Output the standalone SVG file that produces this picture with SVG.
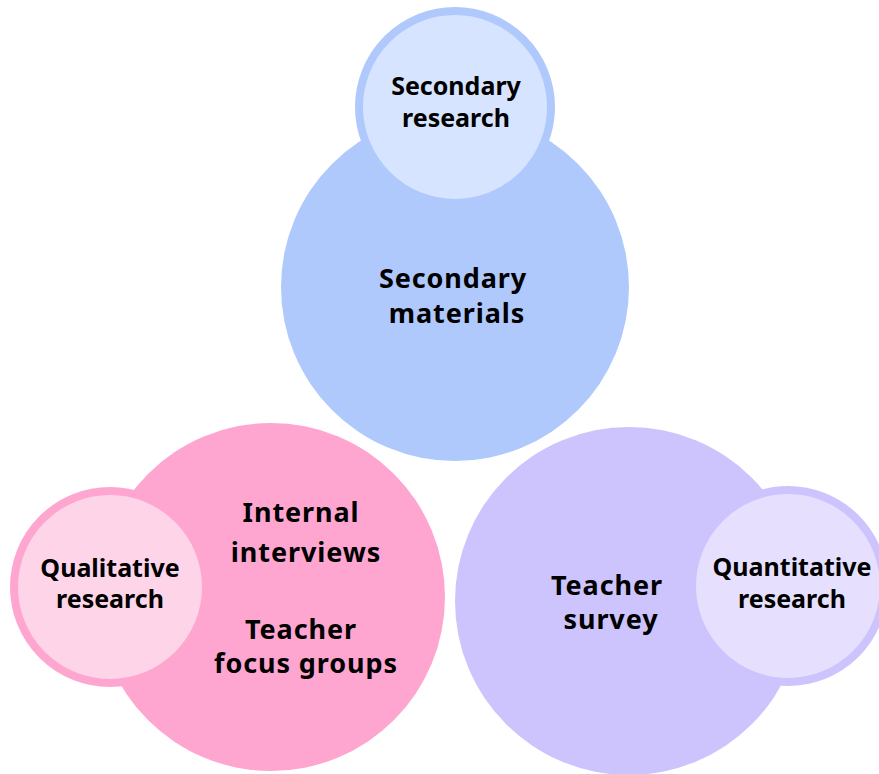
<svg xmlns="http://www.w3.org/2000/svg" width="879" height="774" viewBox="0 0 879 774">
<style>
text{font-family:"Noto Sans","Open Sans","Liberation Sans",sans-serif;font-weight:700;fill:#000;text-anchor:middle}
.big{font-size:27px;letter-spacing:0.9px}
.small{font-size:25px}
</style>
<rect width="879" height="774" fill="#fff"/>
<g id="secondary-materials">
<circle cx="455" cy="287" r="174" fill="#afc9fd"/>
<text class="big" x="453" y="288">Secondary</text>
<text class="big" x="457" y="323">materials</text>
</g>
<g id="secondary-research">
<circle cx="455" cy="107" r="96" fill="#d6e4ff" stroke="#afc9fd" stroke-width="8"/>
<text class="small" x="456" y="95">Secondary</text>
<text class="small" x="456" y="127">research</text>
</g>
<g id="interviews">
<circle cx="271" cy="597" r="174" fill="#fea6d0"/>
<text class="big" x="301" y="522">Internal</text>
<text class="big" x="306" y="562">interviews</text>
<text class="big" x="301" y="639">Teacher</text>
<text class="big" x="306" y="673">focus groups</text>
</g>
<g id="qualitative-research">
<circle cx="110" cy="587" r="96" fill="#fed5e8" stroke="#fea6d0" stroke-width="8"/>
<text class="small" x="110" y="577">Qualitative</text>
<text class="small" x="110" y="608">research</text>
</g>
<g id="teacher-survey">
<circle cx="629" cy="601" r="174" fill="#cdc4fd"/>
<text class="big" x="607" y="595">Teacher</text>
<text class="big" x="611" y="629">survey</text>
</g>
<g id="quantitative-research">
<circle cx="788" cy="586" r="96" fill="#e6e0fe" stroke="#cdc4fd" stroke-width="8"/>
<text class="small" x="792" y="576">Quantitative</text>
<text class="small" x="792" y="608">research</text>
</g>
<g id="connectors"/>
</svg>
